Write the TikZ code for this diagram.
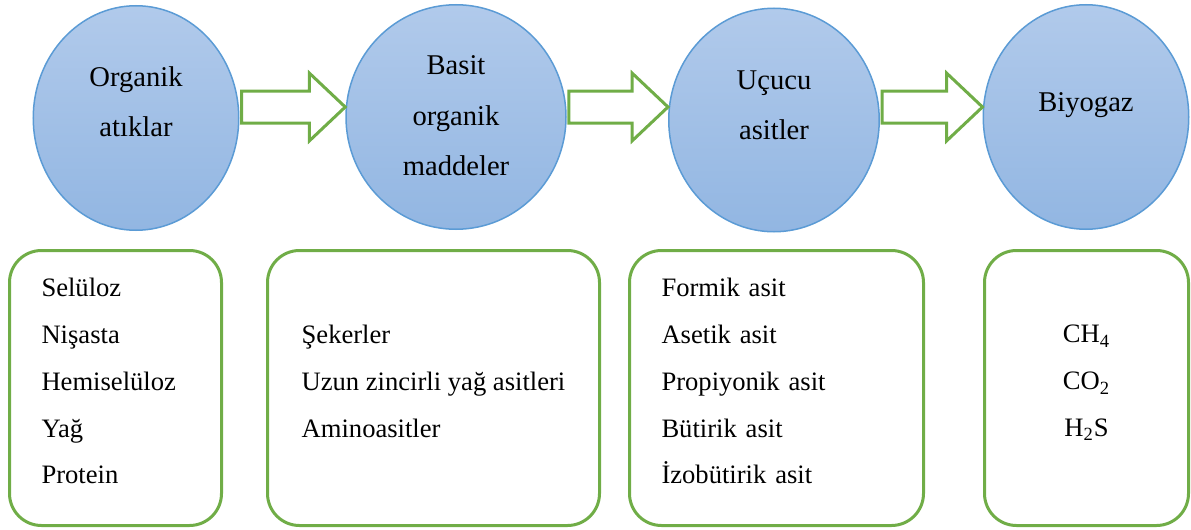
\documentclass[tikz,border=0pt]{standalone}
\usepackage{fontspec}
\setmainfont{Liberation Serif}
\usepackage{tikz}
\usetikzlibrary{shapes.geometric}
\usetikzlibrary{calc}
\definecolor{bubbletop}{RGB}{177,202,235}
\definecolor{bubblebottom}{RGB}{146,182,226}
\definecolor{bubbleline}{RGB}{91,155,213}
\definecolor{leafgreen}{RGB}{112,173,71}
\newcommand{\bubblefont}{\fontsize{14.3}{25.3}\selectfont}
\newcommand{\listfont}{\fontsize{13.3}{23.4}\selectfont}

\begin{document}
\begin{tikzpicture}[x=0.5pt,y=-0.5pt]
\tikzstyle{bubble}=[ellipse, draw=bubbleline, line width=0.75pt, top color=bubbletop, bottom color=bubblebottom, inner sep=0pt]
\tikzstyle{bubbletext}=[align=center, font=\bubblefont, inner sep=0pt]
\tikzstyle{leafbox}=[draw=leafgreen, line width=1.5pt, rounded corners=16pt, minimum height=137.5pt, inner xsep=16pt, inner ysep=0pt, align=left, font=\listfont, execute at end node=\strut]
\tikzstyle{fatarrow}=[draw=leafgreen, line width=1.5pt, fill=white]
\useasboundingbox (0,0) rectangle (1191,530);

% stages
\node[bubble, minimum width=102.75pt, minimum height=112.25pt] (c1) at (136,118) {};
\node[bubble, minimum width=110pt, minimum height=112.25pt] (c2) at (456,117) {};
\node[bubble, minimum width=105.25pt, minimum height=111.75pt] (c3) at (774,120) {};
\node[bubble, minimum width=102.75pt, minimum height=112.25pt] (c4) at (1086,117) {};
\node[bubbletext] (t1) at ([yshift=8.1pt]c1.center) {Organik\\atıklar};
\node[bubbletext] (t2) at ([yshift=0.65pt]c2.center) {Basit\\organik\\maddeler};
\node[bubbletext] (t3) at ([yshift=7.4pt]c3.center) {Uçucu\\asitler};
\node[bubbletext] (t4) at ([yshift=5.85pt]c4.center) {Biyogaz};

% block arrows between the stages
\coordinate (mid) at (0,107);
\foreach \a/\b in {c1/c2, c2/c3, c3/c4} {
  \draw[fatarrow] let \p1=(\a.east), \p2=(\b.west), \p3=(mid) in
    (\x2,\y3) -- (\x2-18pt,\y3+17pt) -- (\x2-18pt,\y3+8pt) -- (\x1+1pt,\y3+8pt)
    -- (\x1+1pt,\y3-8pt) -- (\x2-18pt,\y3-8pt) -- (\x2-18pt,\y3-17pt) -- cycle;
}

% contents
\node[leafbox, text width=74pt] (b1) at (115.5,388) {Selüloz\\Nişasta\\Hemiselüloz\\Yağ\\Protein};
\node[leafbox, minimum width=166pt] (b2) at (433.5,388) {Şekerler\\Uzun zincirli yağ asitleri\\Aminoasitler};
\node[leafbox, text width=115pt] (b3) at (776.5,388) {Formik asit\\Asetik asit\\Propiyonik asit\\Bütirik asit\\İzobütirik asit};
\node[leafbox, text width=70pt, align=center] (b4) at (1086.5,388) {CH\textsubscript{4}\\CO\textsubscript{2}\\H\textsubscript{2}S};
\end{tikzpicture}
\end{document}
